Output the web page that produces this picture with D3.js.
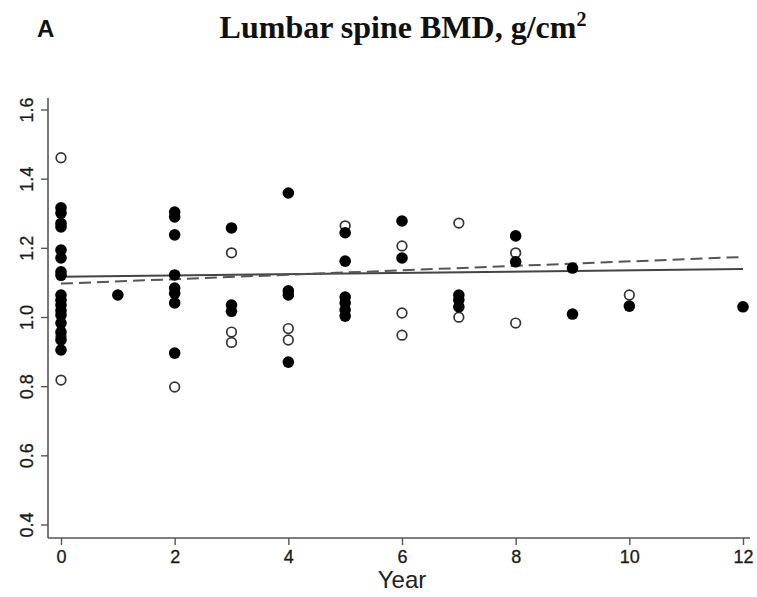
<!DOCTYPE html>
<html><head><meta charset="utf-8">
<script src="https://cdn.jsdelivr.net/npm/d3@7"></script>
<style>body{margin:0;background:#fff;} svg{display:block;}</style>
</head><body>
<script>
const xTicks = [0, 2, 4, 6, 8, 10, 12];
const yTicks = [0.4, 0.6, 0.8, 1.0, 1.2, 1.4, 1.6];
const filledYears = [0,0,0,0,0,0,0,0,0,0,0,0,0,0,0,0,0, 1, 2,2,2,2,2,2,2,2, 3,3,3, 4,4,4,4, 5,5,5,5,5,5, 6,6, 7,7,7, 8,8, 9,9, 10, 12];
const filledValues = [1.317,1.302,1.272,1.262,1.195,1.172,1.132,1.122,1.065,1.05,1.036,1.02,1.007,0.984,0.958,0.935,0.906,
  1.065,
  1.305,1.291,1.239,1.123,1.085,1.07,1.042,0.897,
  1.259,1.036,1.018,
  1.36,1.077,1.065,0.871,
  1.245,1.163,1.059,1.042,1.022,1.004,
  1.279,1.172,
  1.065,1.051,1.031,
  1.236,1.161,
  1.143,1.010,
  1.033,
  1.031];
const openYears = [0,0,0, 2, 3,3,3, 4,4, 5, 6,6,6, 7,7, 8,8, 10];
const openValues = [1.462,0.945,0.819, 0.799, 1.187,0.958,0.928, 0.968,0.935, 1.265, 1.207,1.013,0.949, 1.273,1.001, 1.187,0.984, 1.065];
const solidLine = [[0, 1.118], [12, 1.14]];
const dashedLine = [[0, 1.098], [12, 1.175]];

const W = 757, H = 597;
const svg = d3.select("body").append("svg").attr("width", W).attr("height", H);
const x = d3.scaleLinear().domain([0, 12]).range([61, 743]);
const y = d3.scaleLinear().domain([0.4, 1.6]).range([525, 110]);

// title
svg.append("text").attr("x", 37).attr("y", 37).attr("font-family", "Liberation Sans, Arial, sans-serif")
  .attr("font-weight", "bold").attr("font-size", 24).attr("fill", "#111").text("A");
const t = svg.append("text").attr("x", 403).attr("y", 38).attr("text-anchor", "middle")
  .attr("font-family", "Liberation Serif, Times New Roman, serif").attr("font-weight", "bold")
  .attr("font-size", 32).attr("fill", "#111");
t.append("tspan").text("Lumbar spine BMD, g/cm");
t.append("tspan").attr("dy", -12).attr("font-size", 20).text("2");

// axes lines (L-shaped)
const axisColor = "#555";
svg.append("line").attr("x1", 48).attr("x2", 48).attr("y1", 98).attr("y2", 538).attr("stroke", axisColor).attr("stroke-width", 1.6);
svg.append("line").attr("x1", 48).attr("x2", 750).attr("y1", 538).attr("y2", 538).attr("stroke", axisColor).attr("stroke-width", 1.6);

const xAxis = svg.append("g").attr("transform", "translate(0,538)")
  .call(d3.axisBottom(x).tickValues(xTicks).tickSize(7).tickFormat(d3.format("d")));
xAxis.select(".domain").remove();
xAxis.selectAll("line").attr("stroke", axisColor).attr("stroke-width", 1.4);
xAxis.selectAll("text").attr("font-family", "Liberation Sans, Arial, sans-serif").attr("font-size", 18)
  .attr("fill", "#1a1a1a").attr("stroke", "#1a1a1a").attr("stroke-width", 0.3).attr("dy", "0.85em");

const yAxis = svg.append("g").attr("transform", "translate(48,0)")
  .call(d3.axisLeft(y).tickValues(yTicks).tickSize(7).tickFormat(d3.format(".1f")));
yAxis.select(".domain").remove();
yAxis.selectAll("line").attr("stroke", axisColor).attr("stroke-width", 1.4);
yAxis.selectAll("text").attr("font-family", "Liberation Sans, Arial, sans-serif").attr("font-size", 18)
  .attr("fill", "#1a1a1a").attr("stroke", "#1a1a1a").attr("stroke-width", 0.3)
  .attr("text-anchor", "middle").attr("x", 0).attr("dy", 0)
  .attr("transform", d => `translate(-20,${y(d)}) rotate(-90)`).attr("y", 0)
  .attr("dominant-baseline", "middle");
yAxis.selectAll(".tick").attr("transform", null);
yAxis.selectAll(".tick line").attr("y1", d => y(d)).attr("y2", d => y(d));

svg.append("text").attr("x", 402).attr("y", 588).attr("text-anchor", "middle")
  .attr("font-family", "Liberation Sans, Arial, sans-serif").attr("font-size", 24).attr("fill", "#222").text("Year");

// regression lines
const line = d3.line().x(d => x(d[0])).y(d => y(d[1]));
svg.append("path").attr("d", line(solidLine)).attr("stroke", "#444").attr("stroke-width", 2).attr("fill", "none");
svg.append("path").attr("d", line(dashedLine)).attr("stroke", "#555").attr("stroke-width", 2)
  .attr("stroke-dasharray", "12,6").attr("fill", "none");

// points
svg.append("g").selectAll("circle").data(openYears.map((yr, i) => [yr, openValues[i]])).join("circle")
  .attr("cx", d => x(d[0])).attr("cy", d => y(d[1])).attr("r", 4.8)
  .attr("fill", "#fff").attr("stroke", "#333").attr("stroke-width", 1.7);
svg.append("g").selectAll("circle").data(filledYears.map((yr, i) => [yr, filledValues[i]])).join("circle")
  .attr("cx", d => x(d[0])).attr("cy", d => y(d[1])).attr("r", 5.8)
  .attr("fill", "#000");
</script>
</body></html>
